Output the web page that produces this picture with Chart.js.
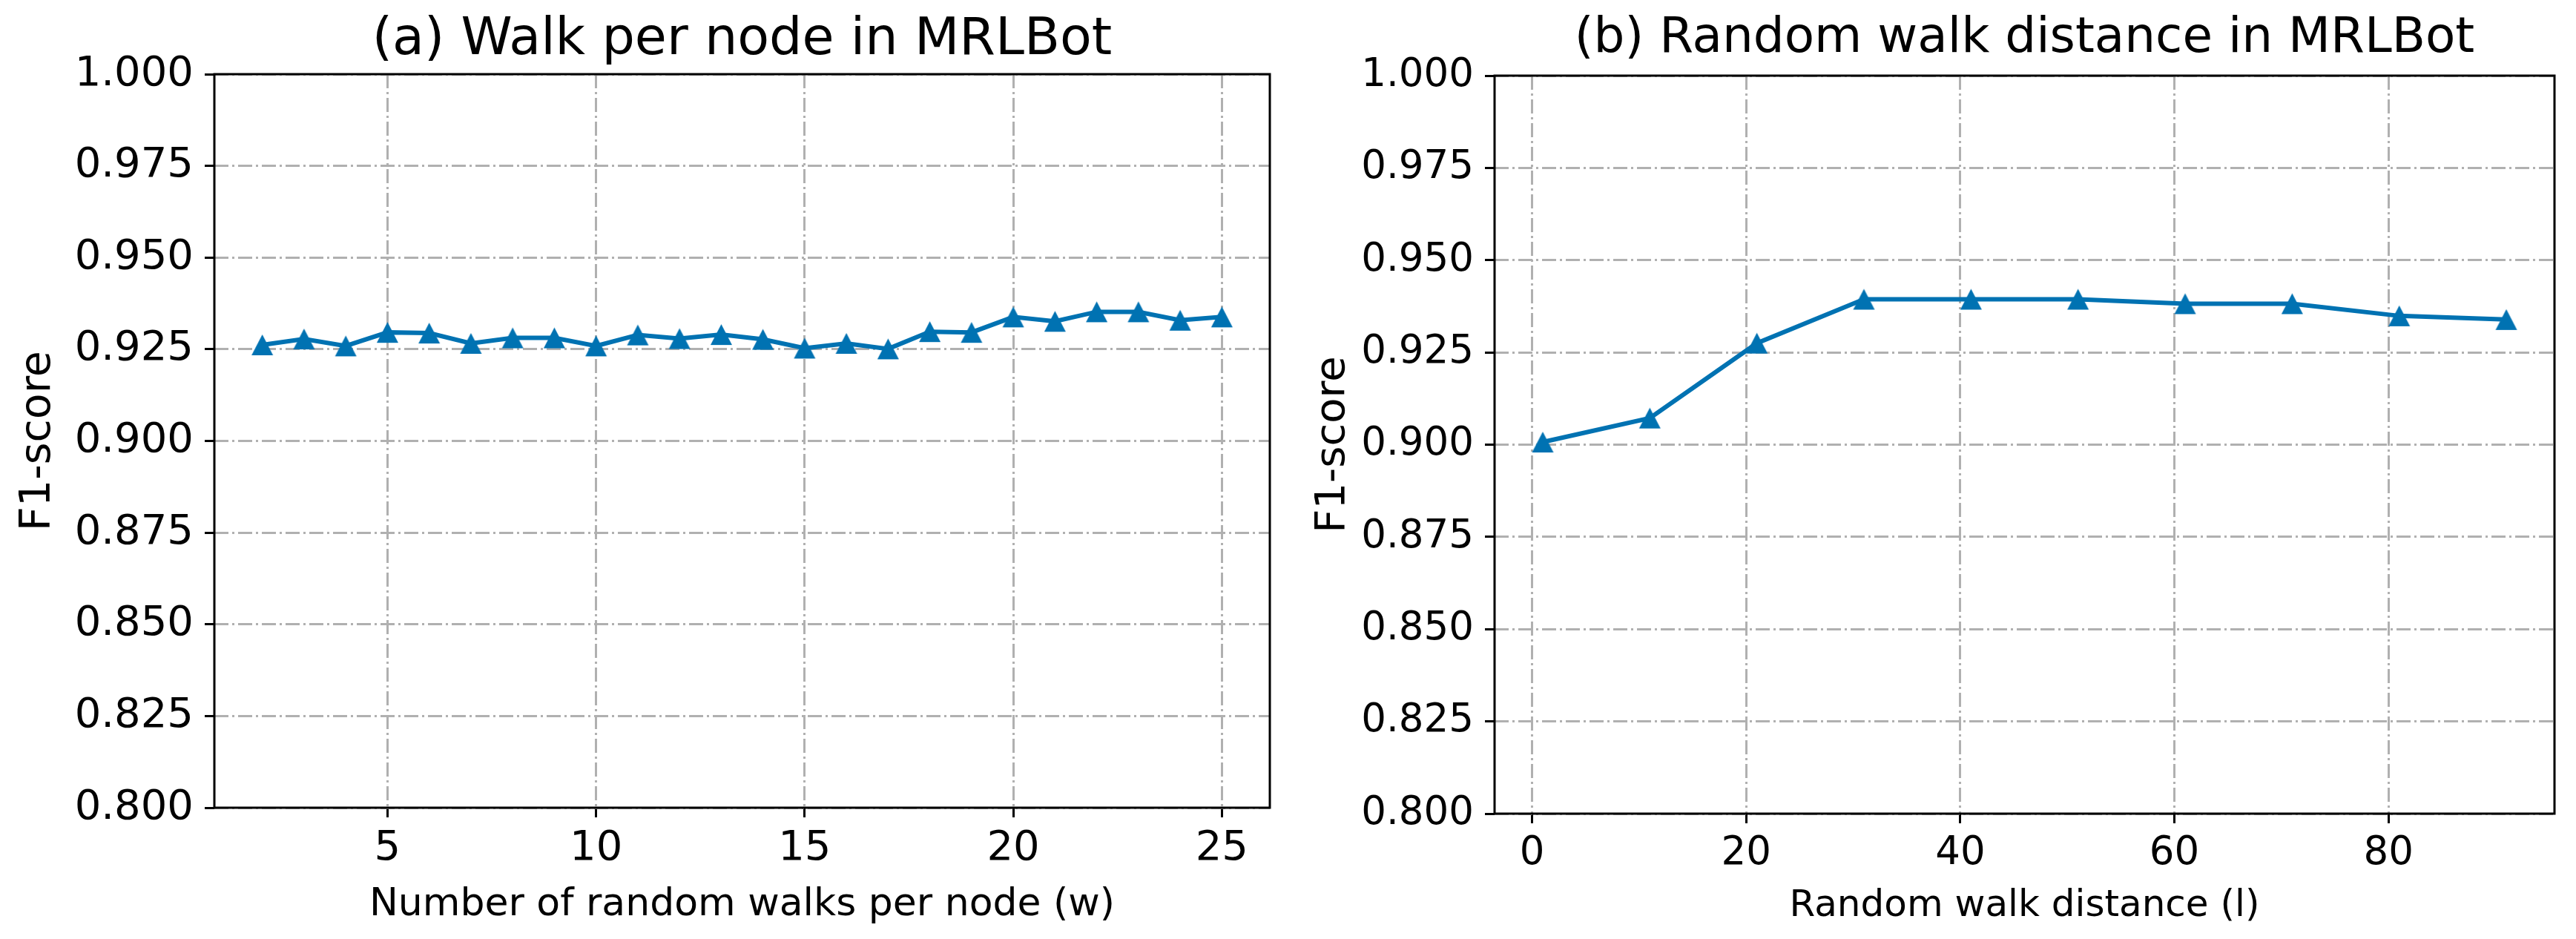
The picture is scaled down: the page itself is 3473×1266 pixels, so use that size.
<!DOCTYPE html>
<html>
<head>
<meta charset="utf-8">
<script src="https://cdn.jsdelivr.net/npm/chart.js@4/dist/chart.umd.min.js"></script>
<style>
  body { margin: 0; background: #fff; }
  .panel { position: absolute; top: 0; }
</style>
</head>
<body>
<div class="panel" style="left:0"><canvas id="walkChart" width="1736" height="1266"></canvas></div>
<div class="panel" style="left:1736px"><canvas id="distChart" width="1737" height="1266"></canvas></div>
<script>
// (a) walks per node
const walksPerNode = [2, 3, 4, 5, 6, 7, 8, 9, 10, 11, 12, 13, 14, 15, 16, 17, 18, 19, 20, 21, 22, 23, 24, 25];
const walkF1 = [0.9262, 0.9278, 0.9259, 0.9296, 0.9294, 0.9266, 0.9281, 0.9281, 0.9259, 0.9289, 0.9279, 0.9290,
                0.9277, 0.9253, 0.9266, 0.9251, 0.9298, 0.9296, 0.9338, 0.9326, 0.9352, 0.9352, 0.9329, 0.9338];

// (b) random walk distance
const walkDistance = [1, 11, 21, 31, 41, 51, 61, 71, 81, 91];
const distanceF1 = [0.9007, 0.9072, 0.9275, 0.9394, 0.9394, 0.9394, 0.9382, 0.9382, 0.9349, 0.9339];

const f1Ticks = [0.800, 0.825, 0.850, 0.875, 0.900, 0.925, 0.950, 0.975, 1.000];

const lineColor = '#0072b2';
const gridColor = '#b0b0b0';
const dashDot = [19, 5, 3, 5];

Chart.defaults.font.family = "'DejaVu Sans', sans-serif";
Chart.defaults.color = '#000';

// matplotlib style '^' marker: isoceles, centred at mid height
function makeTriangle(w, h) {
  const c = document.createElement('canvas');
  c.width = w + 2;
  c.height = h + 2;
  const ctx = c.getContext('2d');
  ctx.fillStyle = lineColor;
  ctx.beginPath();
  ctx.moveTo(c.width / 2, 1);
  ctx.lineTo(1, h + 1);
  ctx.lineTo(w + 1, h + 1);
  ctx.closePath();
  ctx.fill();
  return c;
}
const triangle = makeTriangle(29, 28);

// full box around the axes, like matplotlib spines
const frameBox = {
  id: 'frameBox',
  afterDraw(chart) {
    const a = chart.chartArea;
    const ctx = chart.ctx;
    ctx.save();
    ctx.strokeStyle = '#000';
    ctx.lineWidth = 3;
    ctx.strokeRect(a.left, a.top, a.right - a.left, a.bottom - a.top);
    ctx.restore();
  }
};

function makeChart(id, cfg) {
  const points = cfg.xs.map((x, i) => ({ x: x, y: cfg.ys[i] }));
  return new Chart(document.getElementById(id), {
    type: 'line',
    data: {
      datasets: [{
        data: points,
        borderColor: lineColor,
        borderWidth: 6,
        tension: 0,
        pointStyle: triangle,
        pointRadius: 15,
        pointHoverRadius: 15
      }]
    },
    options: {
      responsive: false,
      animation: false,
      devicePixelRatio: 1,
      layout: { padding: { left: 0, right: cfg.padRight, top: 0, bottom: 0 } },
      plugins: {
        legend: { display: false },
        tooltip: { enabled: false },
        title: {
          display: true,
          text: cfg.title,
          fullSize: false,
          font: { size: cfg.titleSize, weight: 'normal' },
          color: '#000',
          padding: { top: 13, bottom: cfg.top - 13 - cfg.titleSize * 1.2 }
        }
      },
      scales: {
        x: {
          type: 'linear',
          min: cfg.xMin,
          max: cfg.xMax,
          afterFit(scale) { scale.height = 1266 - cfg.bottom; },
          ticks: {
            stepSize: cfg.xStep,
            includeBounds: false,
            padding: 9,
            font: { size: cfg.tickSize },
            callback: v => String(Math.round(v))
          },
          grid: { color: gridColor, lineWidth: 3, tickColor: '#000', tickWidth: 3, tickLength: 13, tickBorderDash: [], borderDash: dashDot },
          border: { display: false, dash: dashDot },
          title: { display: true, text: cfg.xLabel, font: { size: cfg.xLabelSize }, padding: { top: 0, bottom: 14 } }
        },
        y: {
          type: 'linear',
          min: 0.8,
          max: 1.0,
          afterFit(scale) { scale.width = cfg.left; },
          afterBuildTicks(scale) { scale.ticks = f1Ticks.map(v => ({ value: v })); },
          ticks: {
            padding: 15,
            font: { size: cfg.tickSize },
            callback: v => Number(v).toFixed(3)
          },
          grid: { color: gridColor, lineWidth: 3, tickColor: '#000', tickWidth: 3, tickLength: 13, tickBorderDash: [], borderDash: dashDot },
          border: { display: false, dash: dashDot },
          title: { display: true, text: 'F1-score', font: { size: cfg.yLabelSize }, padding: { top: cfg.yLabelPad, bottom: 0 } }
        }
      }
    },
    plugins: [frameBox]
  });
}

makeChart('walkChart', {
  xs: walksPerNode, ys: walkF1,
  title: '(a) Walk per node in MRLBot',
  xLabel: 'Number of random walks per node (w)',
  xMin: 0.85, xMax: 26.15, xStep: 5,
  left: 289, padRight: 24, top: 100, bottom: 1089,
  titleSize: 70, tickSize: 56, xLabelSize: 52, yLabelSize: 57, yLabelPad: 18
});

makeChart('distChart', {
  xs: walkDistance, ys: distanceF1,
  title: '(b) Random walk distance in MRLBot',
  xLabel: 'Random walk distance (l)',
  xMin: -3.5, xMax: 95.5, xStep: 20,
  left: 279, padRight: 29, top: 102, bottom: 1097,
  titleSize: 66, tickSize: 53, xLabelSize: 50, yLabelSize: 56, yLabelPad: 28
});
</script>
</body>
</html>
